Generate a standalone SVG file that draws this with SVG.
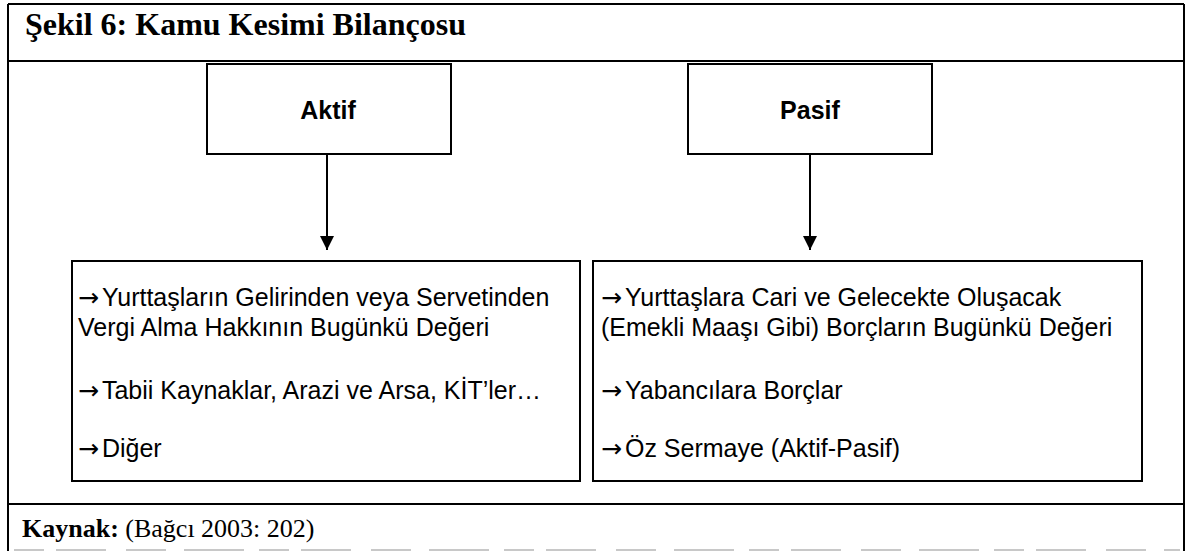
<svg xmlns="http://www.w3.org/2000/svg" width="1188" height="551" viewBox="0 0 1188 551">
  <style>
    .frame { stroke: #000; stroke-width: 2; fill: none; }
    .box { stroke: #000; stroke-width: 2; fill: #fff; }
    .conn { stroke: #000; stroke-width: 2; fill: none; }
    .title { font-family: "Liberation Serif", "Times New Roman", serif; font-weight: bold; font-size: 32px; fill: #000; }
    .head { font-family: "Liberation Sans", Arial, sans-serif; font-weight: bold; font-size: 25px; fill: #000; }
    .item { font-family: "Liberation Sans", Arial, sans-serif; font-size: 25px; fill: #000; }
    .arr { font-family: "DejaVu Sans", sans-serif; font-size: 25px; }
    .src { font-family: "Liberation Serif", "Times New Roman", serif; font-size: 26px; fill: #000; }
    .faint { stroke: #c8c8c8; stroke-width: 2; }
  </style>
  <defs>
    <marker id="arrowhead" viewBox="0 0 10 10" refX="10" refY="5" markerWidth="7" markerHeight="7" markerUnits="strokeWidth" orient="auto">
      <path d="M0,0 L10,5 L0,10 Z" fill="#000"/>
    </marker>
  </defs>
  <rect width="1188" height="551" fill="#fff"/>

  <!-- outer frame with title and source rows -->
  <g id="frame">
    <line class="frame" x1="8" y1="4" x2="1184" y2="4"/>
    <line class="frame" x1="8" y1="4" x2="8" y2="551"/>
    <line class="frame" x1="1184" y1="4" x2="1184" y2="551"/>
    <line class="frame" x1="8" y1="61" x2="1184" y2="61"/>
    <line class="frame" x1="8" y1="504" x2="1184" y2="504"/>
    <line class="faint" x1="14" y1="550" x2="1180" y2="550" stroke-dasharray="30 12 50 20 40 18 60 15"/>
    <text class="title" x="25" y="35">Şekil 6: Kamu Kesimi Bilançosu</text>
    <text class="src" x="22" y="537"><tspan font-weight="bold">Kaynak:</tspan> (Bağcı 2003: 202)</text>
  </g>

  <g id="aktif">
    <rect class="box" x="207" y="64" width="244" height="90"/>
    <text class="head" x="328" y="119" text-anchor="middle">Aktif</text>
  </g>

  <g id="pasif">
    <rect class="box" x="688" y="64" width="244" height="90"/>
    <text class="head" x="810" y="119" text-anchor="middle">Pasif</text>
  </g>

  <g id="aktif-items">
    <rect class="box" x="72" y="261" width="508" height="220"/>
    <text class="item" x="78" y="306"><tspan class="arr">→</tspan><tspan dx="3">Yurttaşların Gelirinden veya Servetinden</tspan></text>
    <text class="item" x="78" y="336">Vergi Alma Hakkının Bugünkü Değeri</text>
    <text class="item" x="78" y="399"><tspan class="arr">→</tspan><tspan dx="3">Tabii Kaynaklar, Arazi ve Arsa, KİT’ler…</tspan></text>
    <text class="item" x="78" y="457"><tspan class="arr">→</tspan><tspan dx="3">Diğer</tspan></text>
  </g>

  <g id="pasif-items">
    <rect class="box" x="593" y="261" width="549" height="220"/>
    <text class="item" x="601" y="306"><tspan class="arr">→</tspan><tspan dx="3">Yurttaşlara Cari ve Gelecekte Oluşacak</tspan></text>
    <text class="item" x="601" y="336">(Emekli Maaşı Gibi) Borçların Bugünkü Değeri</text>
    <text class="item" x="601" y="399"><tspan class="arr">→</tspan><tspan dx="3">Yabancılara Borçlar</tspan></text>
    <text class="item" x="601" y="457"><tspan class="arr">→</tspan><tspan dx="3">Öz Sermaye (Aktif-Pasif)</tspan></text>
  </g>

  <g id="connectors">
    <line class="conn" x1="327" y1="154" x2="327" y2="250" marker-end="url(#arrowhead)"/>
    <line class="conn" x1="810" y1="154" x2="810" y2="250" marker-end="url(#arrowhead)"/>
  </g>
</svg>
